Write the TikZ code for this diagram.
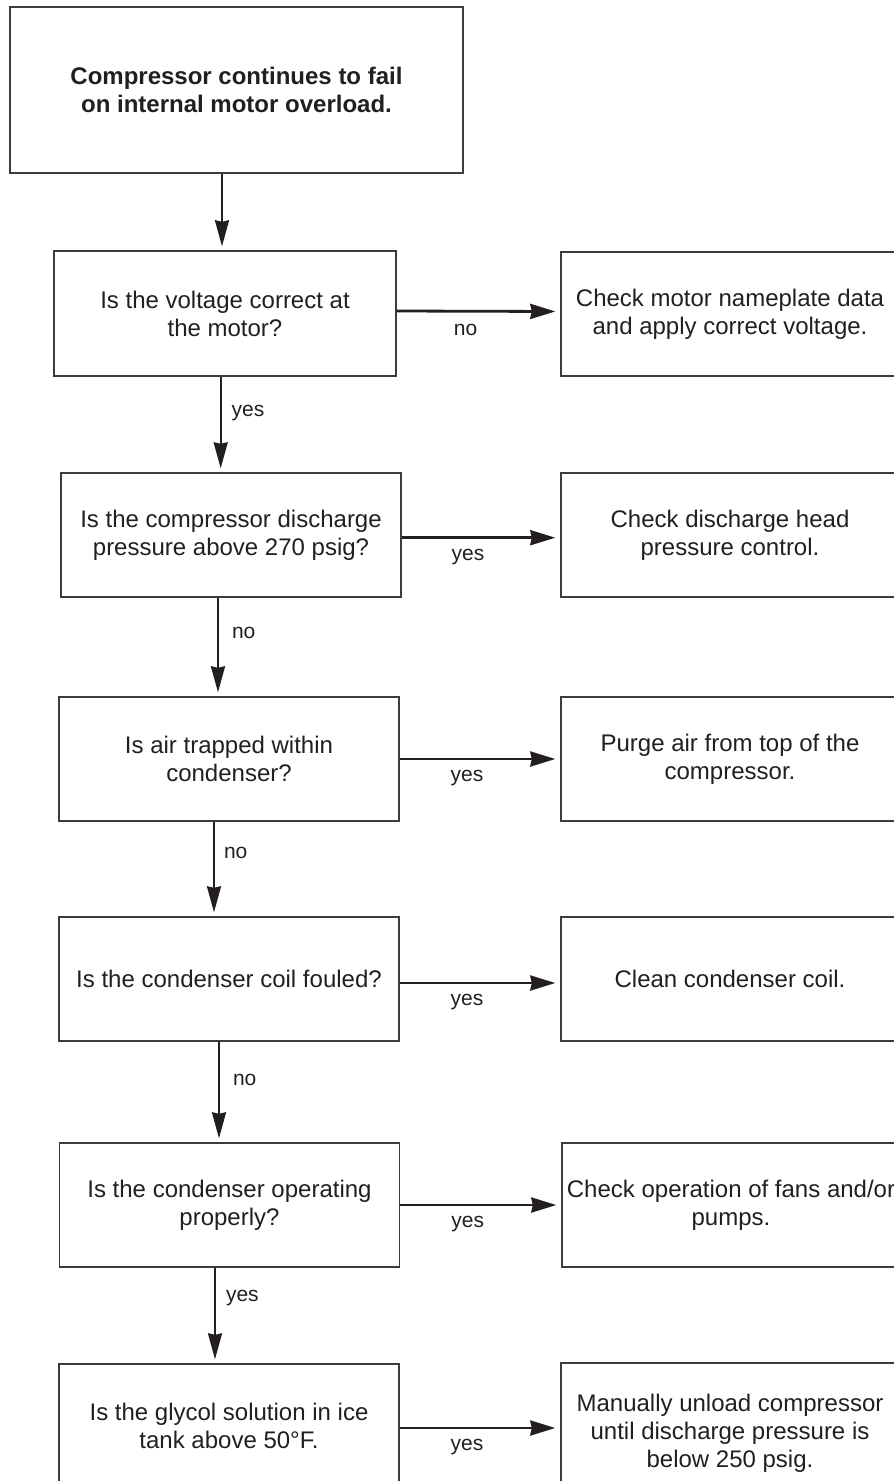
\documentclass[tikz,border=0pt]{standalone}
\usepackage{fontspec}
\setmainfont{Liberation Sans}
\usetikzlibrary{arrows.meta}
\definecolor{ink}{HTML}{231F20}
\definecolor{frame}{HTML}{3C3C3C}
\begin{document}
\begin{tikzpicture}[x=1pt,y=-1pt,
  box/.style={draw=frame, line width=1.4pt, fill=white, align=center, text=ink,
    font=\fontsize{24pt}{28pt}\selectfont, inner sep=0pt,
    minimum width=340pt, minimum height=124pt},
  outbox/.style={box, minimum width=338pt},
  lab/.style={text=ink, font=\fontsize{21pt}{25pt}\selectfont, inner sep=0pt},
  varrow/.style={draw=ink, line width=2pt,
    -{Stealth[length=26pt 0 0,width=14pt 0 0,inset=1.5pt 0]}, shorten >=4pt},
  harrow/.style={draw=ink, line width=2.8pt,
    -{Stealth[length=25pt 0 0,width=15pt 0 0,inset=1.5pt 0]}, shorten >=5pt}]

% page area
\fill[white] (0,0) rectangle (894,1481);
\clip (0,0) rectangle (894,1481);

% starting condition
\node[box, minimum width=453pt, minimum height=166pt,
      font=\bfseries\fontsize{24pt}{28pt}\selectfont] (top) at (236.5,90)
  {Compressor continues to fail\\on internal motor overload.};

% questions (left column)
\node[box, minimum width=342pt, minimum height=125pt] (d1) at (225,313.5)
  {Is the voltage correct at\\the motor?};
\node[box] (d2) at (231,535) {Is the compressor discharge\\pressure above 270 psig?};
\node[box] (d3) at (229,759) {Is air trapped within\\condenser?};
\node[box] (d4) at (229,979) {Is the condenser coil fouled?};
\node[box] (d5) at (229.5,1205) {Is the condenser operating\\properly?};
\node[box] (d6) at (229,1426) {Is the glycol solution in ice\\tank above 50°F.};

% actions (right column)
\node[outbox] (r1) at (730,314) {Check motor nameplate data\\and apply correct voltage.};
\node[outbox] (r2) at (730,535) {Check discharge head\\pressure control.};
\node[outbox] (r3) at (730,759) {Purge air from top of the\\compressor.};
\node[outbox] (r4) at (730,979) {Clean condenser coil.};
\node[outbox] (r5) at (731,1205) {Check operation of fans and/or\\pumps.};
\node[outbox, minimum height=140pt] (r6) at (730,1433)
  {Manually unload compressor\\until discharge pressure is\\below 250 psig.};

% x positions of the downward connectors
\coordinate (v0) at (222,0);
\coordinate (v1) at (220.7,0);
\coordinate (v2) at (218,0);
\coordinate (v3) at (214,0);
\coordinate (v4) at (219,0);
\coordinate (v5) at (215,0);

% downward connectors
\draw[varrow] (top.south -| v0) -- (d1.north -| v0);
\draw[varrow] (d1.south -| v1) --
  node[lab, anchor=west, xshift=10pt, yshift=11.5pt] {yes} (d2.north -| v1);
\draw[varrow] (d2.south -| v2) --
  node[lab, anchor=west, xshift=13pt, yshift=14pt] {no} (d3.north -| v2);
\draw[varrow] (d3.south -| v3) --
  node[lab, anchor=west, xshift=9pt, yshift=16pt] {no} (d4.north -| v3);
\draw[varrow] (d4.south -| v4) --
  node[lab, anchor=west, xshift=13pt, yshift=12pt] {no} (d5.north -| v4);
\draw[varrow] (d5.south -| v5) --
  node[lab, anchor=west, xshift=10pt, yshift=17pt] {yes} (d6.north -| v5);

% connectors to the actions
\draw[harrow] ([yshift=2.5pt]d1.east) --
  node[lab, xshift=-13pt, yshift=-19pt] {no} ([yshift=2.5pt]r1.west);
\draw[harrow] ([yshift=-2.7pt]d2.east) --
  node[lab, xshift=-13pt, yshift=-19pt] {yes} ([yshift=-2.7pt]r2.west);
\draw[harrow] (d3.east) --
  node[lab, xshift=-13pt, yshift=-19pt] {yes} (r3.west);
\draw[harrow] ([yshift=-4pt]d4.east) --
  node[lab, xshift=-13pt, yshift=-19pt] {yes} ([yshift=-4pt]r4.west);
\draw[harrow] (d5.east) --
  node[lab, xshift=-13pt, yshift=-19pt] {yes} (r5.west);
\coordinate (h6) at ([yshift=-2pt]d6.east);
\draw[harrow] (h6) --
  node[lab, xshift=-13pt, yshift=-19pt] {yes} (r6.west |- h6);
\end{tikzpicture}
\end{document}
